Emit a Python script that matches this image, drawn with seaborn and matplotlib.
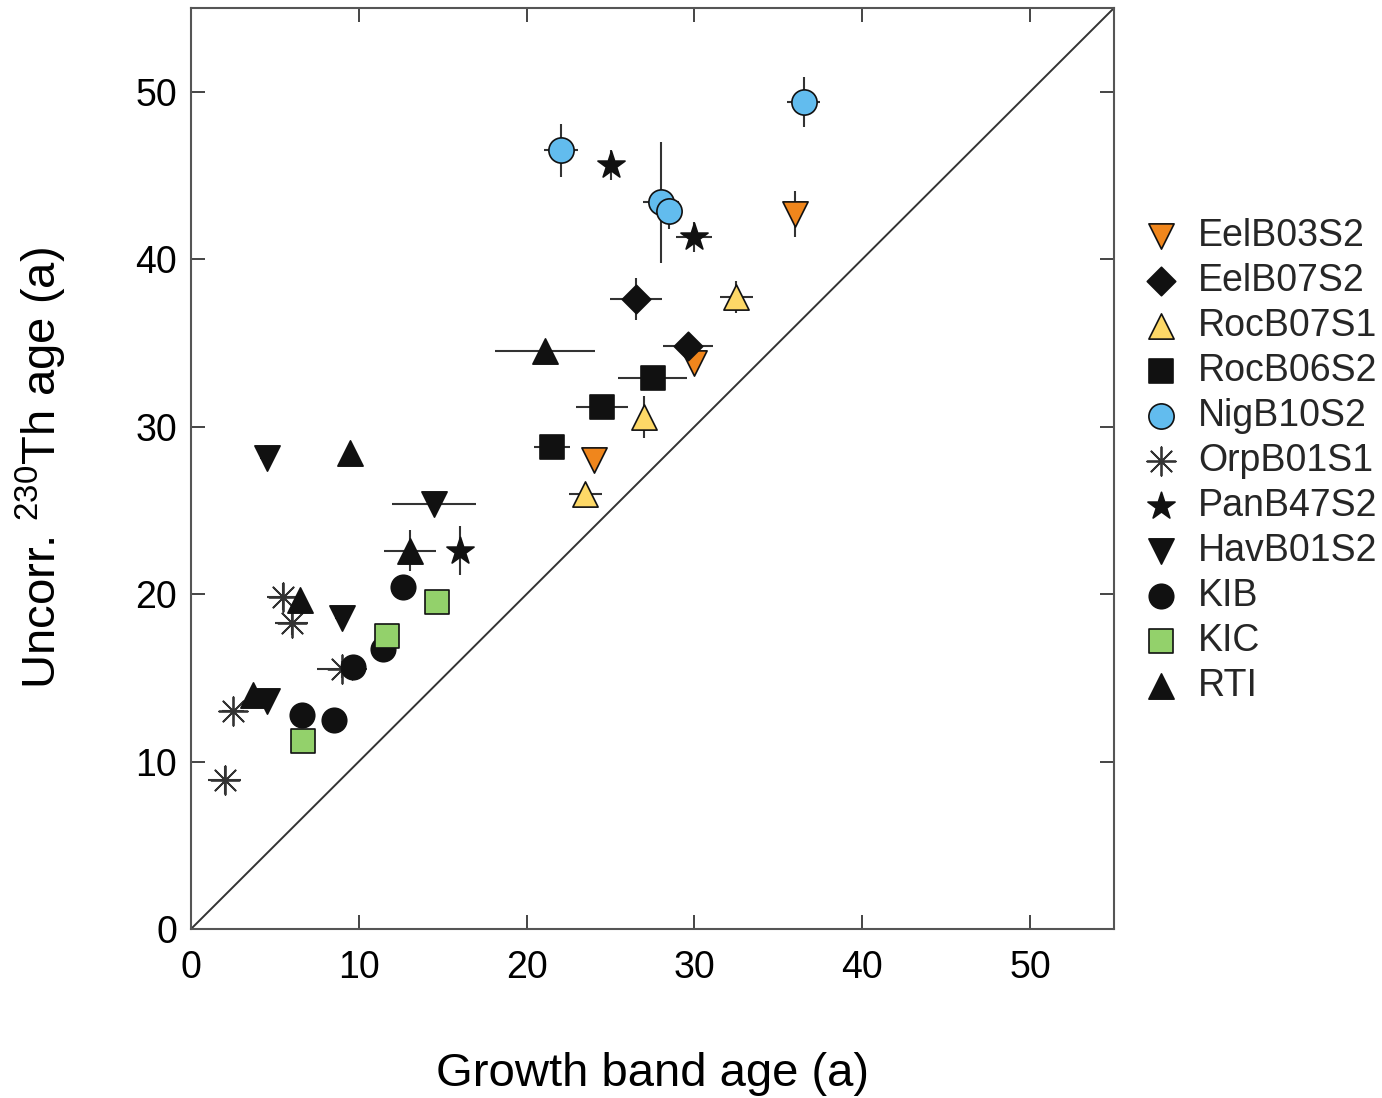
import matplotlib
matplotlib.use("Agg")
import matplotlib.pyplot as plt
import seaborn as sns
import pandas as pd

# ---------------- data ----------------
groups = ["EelB03S2", "EelB07S2", "RocB07S1", "RocB06S2", "NigB10S2",
          "OrpB01S1", "PanB47S2", "HavB01S2", "KIB", "KIC", "RTI"]

eel03_x = [24.0, 30.0, 36.0]
eel03_y = [28.0, 33.8, 42.7]
eel03_xerr = [0.0, 0.0, 0.0]
eel03_yerr = [0.3, 0.5, 1.35]

eel07_x = [26.5, 29.6]
eel07_y = [37.6, 34.8]
eel07_xerr = [1.55, 1.5]
eel07_yerr = [1.25, 0.3]

roc07_x = [23.5, 27.0, 32.5]
roc07_y = [26.0, 30.6, 37.75]
roc07_xerr = [1.0, 0.0, 1.0]
roc07_yerr = [0.3, 1.25, 0.95]

roc06_x = [21.5, 24.5, 27.5]
roc06_y = [28.8, 31.2, 32.9]
roc06_xerr = [1.07, 1.55, 2.06]
roc06_yerr = [0.3, 0.5, 0.6]

nig_x = [22.05, 36.5, 28.0, 28.5]
nig_y = [46.5, 49.4, 43.4, 42.9]
nig_xerr = [1.0, 1.0, 1.07, 0.0]
nig_yerr = [1.6, 1.5, 3.6, 1.1]

orp_x = [2.0, 2.5, 5.5, 6.0, 9.0]
orp_y = [8.9, 13.0, 19.85, 18.3, 15.5]
orp_xerr = [1.0, 0.65, 1.0, 1.0, 1.5]
orp_yerr = [0.85, 0.0, 0.8, 0.75, 0.5]

pan_x = [25.0, 30.0, 16.0]
pan_y = [45.6, 41.35, 22.6]
pan_xerr = [0.0, 1.07, 0.0]
pan_yerr = [0.9, 0.9, 1.46]

hav_x = [4.5, 14.5, 9.0, 4.5]
hav_y = [28.1, 25.4, 18.6, 13.6]
hav_xerr = [0.4, 2.5, 0.4, 0.4]
hav_yerr = [0.0, 0.0, 0.0, 0.0]

kib_x = [6.6, 8.5, 9.65, 11.45, 12.65]
kib_y = [12.8, 12.5, 15.65, 16.7, 20.4]
kib_xerr = [0.0, 0.0, 0.0, 0.0, 0.0]
kib_yerr = [0.5, 0.0, 0.0, 0.0, 0.0]

kic_x = [6.65, 11.7, 14.65]
kic_y = [11.25, 17.5, 19.5]
kic_xerr = [0.0, 0.0, 0.0]
kic_yerr = [0.0, 0.0, 0.0]

rti_x = [3.7, 6.5, 9.5, 13.05, 21.1]
rti_y = [14.0, 19.65, 28.4, 22.6, 34.5]
rti_xerr = [0.0, 0.0, 0.0, 1.55, 3.0]
rti_yerr = [0.0, 0.0, 0.0, 1.25, 0.6]

one_to_one = [0, 55]
x_ticks = [0, 10, 20, 30, 40, 50]
y_ticks = [0, 10, 20, 30, 40, 50]

data = {
    "EelB03S2": (eel03_x, eel03_y, eel03_xerr, eel03_yerr),
    "EelB07S2": (eel07_x, eel07_y, eel07_xerr, eel07_yerr),
    "RocB07S1": (roc07_x, roc07_y, roc07_xerr, roc07_yerr),
    "RocB06S2": (roc06_x, roc06_y, roc06_xerr, roc06_yerr),
    "NigB10S2": (nig_x, nig_y, nig_xerr, nig_yerr),
    "OrpB01S1": (orp_x, orp_y, orp_xerr, orp_yerr),
    "PanB47S2": (pan_x, pan_y, pan_xerr, pan_yerr),
    "HavB01S2": (hav_x, hav_y, hav_xerr, hav_yerr),
    "KIB": (kib_x, kib_y, kib_xerr, kib_yerr),
    "KIC": (kic_x, kic_y, kic_xerr, kic_yerr),
    "RTI": (rti_x, rti_y, rti_xerr, rti_yerr),
}

# ---------------- styles ----------------
styles = {
    "EelB03S2": dict(marker="v", color="#F0861C", s=330),
    "EelB07S2": dict(marker="D", color="#111111", s=210),
    "RocB07S1": dict(marker="^", color="#FDD867", s=330),
    "RocB06S2": dict(marker="s", color="#111111", s=300),
    "NigB10S2": dict(marker="o", color="#62BCEE", s=330),
    "OrpB01S1": dict(marker=(8, 2, 0), color="#333333", s=420),
    "PanB47S2": dict(marker="*", color="#111111", s=420),
    "HavB01S2": dict(marker="v", color="#111111", s=330),
    "KIB": dict(marker="o", color="#111111", s=310),
    "KIC": dict(marker="s", color="#93D16B", s=290),
    "RTI": dict(marker="^", color="#111111", s=330),
}

sns.set_theme(style="white")
plt.rcParams["font.family"] = ["Liberation Sans", "DejaVu Sans"]
plt.rcParams["mathtext.fontset"] = "custom"
plt.rcParams["mathtext.rm"] = "Liberation Sans"
plt.rcParams["mathtext.it"] = "Liberation Sans"

fig = plt.figure(figsize=(13.82, 10.98), dpi=100)
ax = fig.add_axes([191 / 1382, 1 - 929 / 1098, (1114 - 191) / 1382, (929 - 8) / 1098])

# 1:1 line
sns.lineplot(x=one_to_one, y=one_to_one, color="#333333", lw=1.4, ax=ax, zorder=1)

for g in groups:
    xs, ys, xe, ye = data[g]
    ax.errorbar(xs, ys, xerr=xe, yerr=ye, fmt="none", ecolor="#333333",
                elinewidth=1.5, capsize=0, zorder=2)
for g in groups:
    xs, ys, xe, ye = data[g]
    st = styles[g]
    df = pd.DataFrame({"x": xs, "y": ys})
    if st["marker"] == (8, 2, 0):
        sns.scatterplot(data=df, x="x", y="y", marker=st["marker"], color=st["color"],
                        s=st["s"], linewidth=1.3, label=g, ax=ax, zorder=3)
    else:
        sns.scatterplot(data=df, x="x", y="y", marker=st["marker"], color=st["color"],
                        s=st["s"], edgecolor="#111111", linewidth=1.2, label=g,
                        ax=ax, zorder=3)

ax.set_xlim(0, 55)
ax.set_ylim(0, 55)
ax.set_xticks(x_ticks)
ax.set_yticks(y_ticks)
ax.tick_params(direction="in", length=10, width=1.4, color="#444444",
               bottom=True, left=True, top=True, right=True,
               labelsize=27, labelcolor="black")
ax.tick_params(axis="x", pad=15)
ax.tick_params(axis="y", pad=10)
for sp in ax.spines.values():
    sp.set_color("#555555")
    sp.set_linewidth(1.5)

ax.set_xlabel("Growth band age (a)", fontsize=34, labelpad=48, color="black")
ax.set_ylabel("Uncorr. $^{230}$Th age (a)", fontsize=34, labelpad=48, color="black")

handles, labels = ax.get_legend_handles_labels()
hmap = dict(zip(labels, handles))
ax.legend([hmap[g] for g in groups], groups, loc="center left",
          bbox_to_anchor=(1142 / 1382, 1 - 461 / 1098), bbox_transform=fig.transFigure,
          frameon=False, fontsize=27, handlelength=1.0, handletextpad=0.5,
          labelspacing=0.24, borderpad=0, borderaxespad=0, markerscale=1.0)

fig.savefig("out.png", dpi=100)
